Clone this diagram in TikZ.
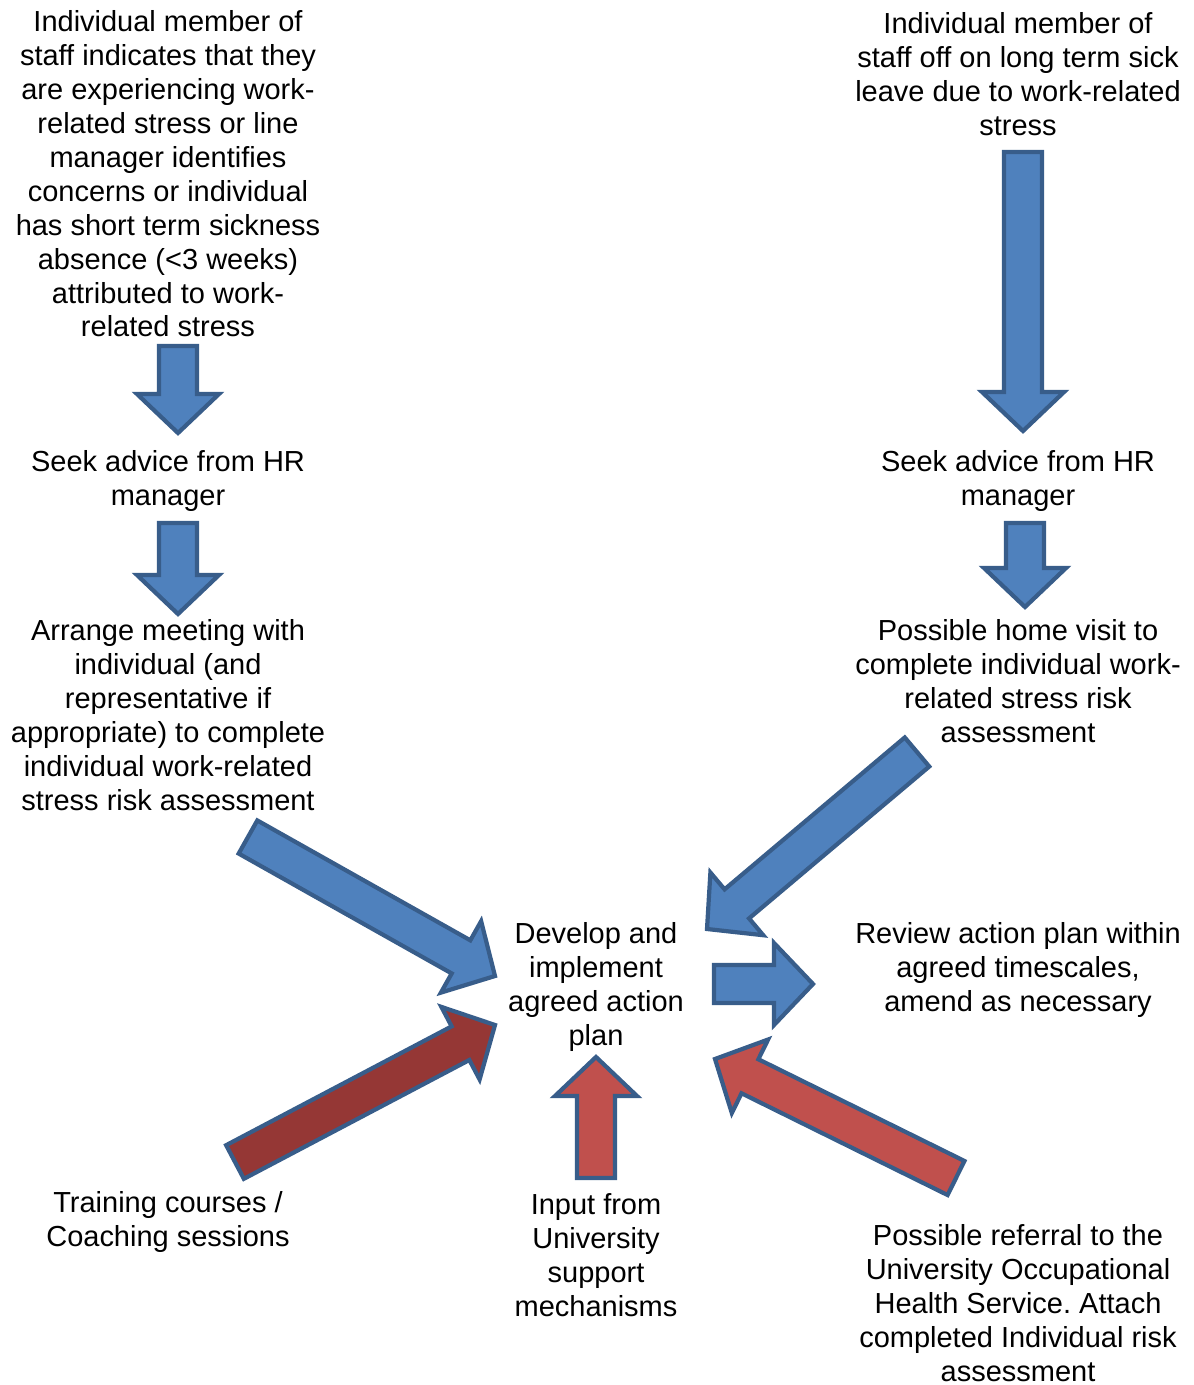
\documentclass[tikz,border=0pt]{standalone}
\usepackage{fontspec}
\setmainfont{Liberation Sans}
\usetikzlibrary{calc}
\frenchspacing

\definecolor{arrowblue}{HTML}{4F81BD}
\definecolor{arrowred}{HTML}{C0504D}
\definecolor{arrowdark}{HTML}{953735}
\definecolor{arrowedge}{HTML}{385D8A}

\def\shaftw{0.38cm}
\def\headw{0.82cm}
\def\headl{0.78cm}

\tikzset{
  box/.style={align=center, inner sep=0pt, font=\fontsize{16.5}{19.3}\selectfont},
  bluefill/.style={fill=arrowblue, draw=arrowedge, line width=2.4pt, line join=miter},
  redfill/.style={fill=arrowred, draw=arrowedge, line width=2.4pt, line join=miter},
  darkfill/.style={fill=arrowdark, draw=arrowedge, line width=2.4pt, line join=miter},
}

\newcommand{\flowarrow}[3][bluefill]{%
  \coordinate (neck) at ($(#3)!\headl!(#2)$);
  \draw [#1] ($(#2)!\shaftw!90:(#3)$) -- ($(neck)!\shaftw!90:(#3)$)
    -- ($(neck)!\headw!90:(#3)$) -- (#3) -- ($(neck)!\headw!-90:(#3)$)
    -- ($(neck)!\shaftw!-90:(#3)$) -- ($(#2)!\shaftw!-90:(#3)$) -- cycle;
}

\begin{document}
\begin{tikzpicture}[x=0.02cm, y=-0.02cm]

   \useasboundingbox (0,0) rectangle (1193,1385);

   \coordinate (short-tail) at (178,346);
   \coordinate (short-tip) at (178,433);
   \coordinate (hr-left-tail) at (178,523);
   \coordinate (hr-left-tip) at (178,614);
   \coordinate (long-tail) at (1023,152);
   \coordinate (long-tip) at (1023,431);
   \coordinate (hr-right-tail) at (1025,523);
   \coordinate (hr-right-tip) at (1025,607);
   \coordinate (meeting-tail) at (248,837);
   \coordinate (meeting-tip) at (495,976);
   \coordinate (visit-tail) at (917,752);
   \coordinate (visit-tip) at (707,929);
   \coordinate (review-tail) at (714,984);
   \coordinate (review-tip) at (813,984);
   \coordinate (training-tail) at (235,1162);
   \coordinate (training-tip) at (495,1025);
   \coordinate (input-tail) at (596,1178);
   \coordinate (input-tip) at (596,1057);
   \coordinate (referral-tail) at (956,1178);
   \coordinate (referral-tip) at (715,1059);

   \flowarrow{short-tail}{short-tip}
   \flowarrow{hr-left-tail}{hr-left-tip}
   \flowarrow{long-tail}{long-tip}
   \flowarrow{hr-right-tail}{hr-right-tip}
   \flowarrow{meeting-tail}{meeting-tip}
   \flowarrow{visit-tail}{visit-tip}
   \flowarrow{review-tail}{review-tip}
   \flowarrow[darkfill]{training-tail}{training-tip}
   \flowarrow[redfill]{input-tail}{input-tip}
   \flowarrow[redfill]{referral-tail}{referral-tip}

   \node (Short-Term-Stress) at (168,174) [box] {Individual member of\\staff indicates that they\\are experiencing work-\\related stress or line\\manager identifies\\concerns or individual\\has short term sickness\\absence (<3 weeks)\\attributed to work-\\related stress};
   \node (HR-Left) at (168,481) [box] {Seek advice from HR\\manager};
   \node (Arrange-Meeting) at (168,715) [box] {Arrange meeting with\\individual (and\\representative if\\appropriate) to complete\\individual work-related\\stress risk assessment};

   \node (Long-Term-Sick) at (1018,74) [box] {Individual member of\\staff off on long term sick\\leave due to work-related\\stress};
   \node (HR-Right) at (1018,481) [box] {Seek advice from HR\\manager};
   \node (Home-Visit) at (1018,681) [box] {Possible home visit to\\complete individual work-\\related stress risk\\assessment};

   \node (Action-Plan) at (596,987) [box] {Develop and\\implement\\agreed action\\plan};
   \node (Review) at (1018,970) [box] {Review action plan within\\agreed timescales,\\amend as necessary};

   \node (Training) at (168,1222) [box] {Training courses /\\Coaching sessions};
   \node (Input) at (596,1255) [box] {Input from\\University\\support\\mechanisms};
   \node (Referral) at (1018,1303) [box] {Possible referral to the\\University Occupational\\Health Service. Attach\\completed Individual risk\\assessment};

\end{tikzpicture}
\end{document}
